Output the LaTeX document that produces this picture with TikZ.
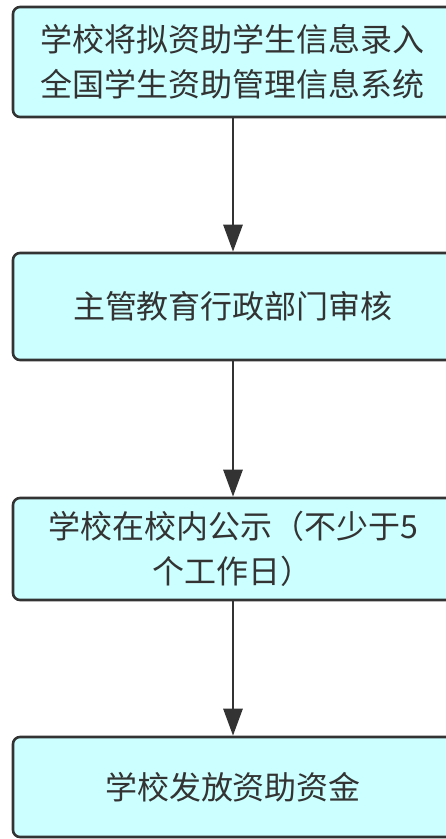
\documentclass[tikz,border=0pt]{standalone}
\usepackage{fontspec}
\newfontfamily\cjk{Noto Sans CJK SC}
\usetikzlibrary{arrows.meta, positioning}
\definecolor{boxcyan}{RGB}{204, 255, 255}
\definecolor{linegray}{RGB}{51, 51, 51}

\begin{document}
\begin{tikzpicture}[
        x=1pt, y=-1pt,
        block/.style={draw=linegray, fill=boxcyan, line width=2.6pt, rounded corners=7pt,
            minimum width=440pt, align=center, text=linegray,
            font=\cjk\fontsize{32}{45}\selectfont},
        arrow/.style={-{Triangle[length=27pt, width=19pt]}, line width=2.8pt, draw=linegray, fill=linegray}
    ]
        \useasboundingbox (0,0) rectangle (445,839);

        % Steps
        \node[block, minimum height=110pt] (entry) at (233, 62) {学校将拟资助学生信息录入\\全国学生资助管理信息系统};
        \node[block, minimum height=107pt] (review) at (233, 306.5) {主管教育行政部门审核};
        \node[block, minimum height=102pt] (notice) at (233, 549) {学校在校内公示（不少于5\\个工作日）};
        \node[block, minimum height=100pt] (grant) at (233, 787) {学校发放资助资金};

        % Arrows
        \draw[arrow] (entry) -- (review);
        \draw[arrow] (review) -- (notice);
        \draw[arrow] (notice) -- (grant);
    \end{tikzpicture}
\end{document}
